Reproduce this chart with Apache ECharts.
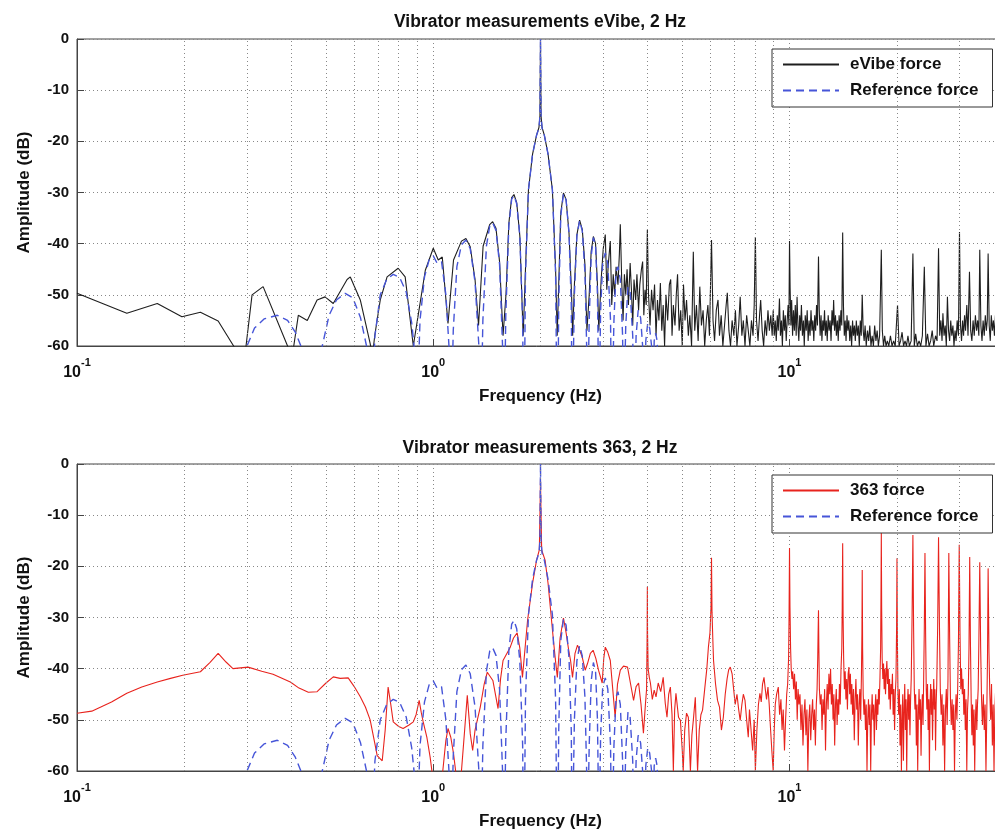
<!DOCTYPE html>
<html>
<head>
<meta charset="utf-8">
<title>Vibrator measurements</title>
<script src="https://cdn.jsdelivr.net/npm/echarts@6/dist/echarts.min.js"></script>
<style>
html, body { margin: 0; padding: 0; background: #fff; }
#chartBox { width: 995px; height: 832px; }
</style>
</head>
<body>
<div id="chartBox"></div>
<script>
// 频率 (Hz) / 幅值 (dB) 数据，读图所得
const minorGridFreqs = [0.2, 0.3, 0.4, 0.5, 0.6, 0.7, 0.8, 0.9, 2, 3, 4, 5, 6, 7, 8, 9, 20, 30]

// 参考力 (蓝色虚线)，两张图共用
const referenceForce = [
  [0.285, -75], [0.300, -60], [0.315, -56.5], [0.335, -54.7], [0.365, -54], [0.39, -55], [0.41, -57.3], [0.428, -60.5], [0.44, -67], [0.45, -80],
  [0.47, -72], [0.488, -60], [0.51, -54], [0.535, -51], [0.566, -49.7], [0.595, -50.6], [0.625, -54.5], [0.652, -60.5], [0.664, -75],
  [0.672, -72], [0.686, -58], [0.71, -50], [0.74, -47], [0.772, -46], [0.805, -46.6], [0.84, -49.5], [0.87, -55.5], [0.889, -62], [0.896, -76],
  [0.903, -70], [0.918, -55], [0.945, -46.5], [0.975, -43], [1.0, -42.4], [1.025, -43.8], [1.055, -43.5], [1.085, -50], [1.108, -60.5], [1.117, -76],
  [1.124, -74], [1.138, -57], [1.165, -44.5], [1.2, -40.2], [1.235, -39.3], [1.27, -41], [1.31, -47.5], [1.343, -60], [1.354, -76],
  [1.362, -74], [1.378, -55], [1.41, -40.5], [1.44, -36.6], [1.468, -35.9], [1.5, -37.4], [1.535, -44], [1.565, -60], [1.575, -76],
  [1.583, -74], [1.598, -54], [1.63, -36.5], [1.66, -31.3], [1.685, -30.6], [1.715, -32.2], [1.75, -38.5], [1.782, -55], [1.793, -76],
  [1.80, -74], [1.815, -46], [1.85, -29.5], [1.9, -22.5], [1.95, -18.8], [1.98, -17.4], [1.993, -15], [2.0, 0], [2.007, -15], [2.02, -17.4],
  [2.05, -18.8], [2.1, -22.5], [2.16, -29.5], [2.205, -46], [2.225, -74],
  [2.235, -76], [2.25, -52], [2.28, -34.5], [2.32, -30.3], [2.36, -31.5], [2.405, -38], [2.44, -52], [2.455, -76],
  [2.47, -76], [2.49, -50], [2.53, -38.5], [2.575, -35.5], [2.62, -37.5], [2.665, -45.5], [2.695, -60], [2.705, -76],
  [2.72, -76], [2.74, -55], [2.775, -42.5], [2.815, -38.8], [2.855, -40.5], [2.89, -50], [2.905, -62], [2.915, -76],
  [2.93, -76], [2.95, -53], [2.99, -43.5], [3.04, -41.8], [3.09, -44], [3.145, -55], [3.17, -76],
  [3.19, -76], [3.215, -55], [3.26, -45.5], [3.3, -44.5], [3.35, -47], [3.4, -58], [3.42, -76],
  [3.44, -76], [3.47, -56], [3.52, -48.5], [3.57, -49.5], [3.63, -58], [3.66, -76],
  [3.68, -76], [3.71, -58], [3.76, -53], [3.82, -54.5], [3.87, -60], [3.9, -76],
  [3.92, -76], [3.95, -59], [4.0, -55.5], [4.05, -56.5], [4.1, -60], [4.12, -76],
  [4.14, -74], [4.17, -59], [4.21, -57.5], [4.25, -59], [4.28, -70]
]

// eVibe 力 (黑色实线)
const evibeLow = [
  [0.1, -49.7], [0.138, -53.6], [0.168, -51.7], [0.197, -54.3], [0.222, -53.4], [0.249, -55.1], [0.278, -60.5], [0.287, -64], [0.297, -61],
  [0.31, -50], [0.333, -48.4], [0.39, -60], [0.4, -63], [0.418, -54], [0.443, -55], [0.472, -51], [0.497, -50.4], [0.524, -51.7],
  [0.573, -47], [0.585, -46.5], [0.624, -51], [0.665, -59.5], [0.675, -62], [0.685, -58], [0.71, -51], [0.742, -46.5], [0.797, -44.8],
  [0.834, -46.5], [0.879, -60], [0.907, -54], [0.95, -45.2], [1.0, -40.9], [1.033, -43.2], [1.06, -42.6], [1.1, -55.6], [1.14, -43.2],
  [1.2, -39.5], [1.235, -39], [1.27, -40.6], [1.31, -47], [1.34, -56], [1.38, -40.5], [1.44, -36.3], [1.468, -35.7], [1.5, -37],
  [1.535, -43.5], [1.57, -58], [1.6, -50], [1.63, -36], [1.66, -31], [1.685, -30.4], [1.715, -32], [1.75, -38.5], [1.788, -58],
  [1.815, -45], [1.85, -29.5], [1.9, -22.5], [1.95, -18.8], [1.98, -17.3], [1.993, -15], [2.0, -0.5], [2.007, -15], [2.02, -17.3],
  [2.05, -18.8], [2.1, -22.5], [2.16, -29.5], [2.205, -45], [2.228, -58], [2.25, -48], [2.28, -34], [2.32, -30.1], [2.36, -31.4],
  [2.405, -38], [2.445, -50], [2.462, -58], [2.49, -48], [2.53, -38.3], [2.575, -35.4], [2.62, -37.2], [2.665, -44], [2.7, -57],
  [2.74, -50], [2.775, -41.5], [2.815, -38.6], [2.855, -40], [2.89, -48], [2.915, -57]
]
const evibeMid = [
  [2.96, -47], [3.0, -41], [3.04, -38.2], [3.07, -49], [3.1, -44], [3.14, -39.5], [3.17, -52], [3.2, -46], [3.23, -50], [3.26, -44.5],
  [3.3, -48], [3.33, -42], [3.35, -36.2], [3.38, -47], [3.41, -55], [3.44, -46], [3.47, -50], [3.5, -45], [3.53, -52], [3.57, -43.8],
  [3.6, -49], [3.63, -56], [3.66, -47], [3.7, -51], [3.73, -46], [3.77, -53], [3.8, -48], [3.84, -45], [3.87, -43.5], [3.9, -54],
  [3.93, -49], [3.96, -52], [3.99, -37.3], [4.02, -50], [4.06, -56], [4.1, -49], [4.14, -53], [4.18, -48], [4.22, -58], [4.26, -51],
  [4.3, -55], [4.34, -47.7], [4.38, -57], [4.42, -52], [4.46, -60], [4.5, -50], [4.55, -55], [4.6, -48], [4.64, -47], [4.68, -58],
  [4.72, -52], [4.77, -56], [4.81, -50], [4.85, -46], [4.9, -57], [4.95, -53], [5.0, -60], [5.04, -48], [5.09, -55], [5.14, -51],
  [5.2, -58], [5.25, -54], [5.31, -60], [5.37, -41.6], [5.42, -57], [5.48, -52], [5.54, -59], [5.6, -48.4], [5.66, -56], [5.72, -53],
  [5.78, -60], [5.84, -55], [5.9, -52], [5.96, -58], [6.04, -39.3], [6.1, -55], [6.16, -59], [6.23, -53], [6.3, -51], [6.36, -58],
  [6.43, -54], [6.5, -60], [6.57, -56], [6.64, -52], [6.69, -49.6], [6.76, -57], [6.83, -60], [6.9, -55], [6.98, -58], [7.05, -53],
  [7.12, -60], [7.2, -56], [7.27, -50.4], [7.35, -58], [7.42, -55], [7.5, -60], [7.58, -54], [7.66, -57], [7.74, -60], [7.82, -55],
  [7.9, -58], [7.96, -52], [8.02, -38.7], [8.08, -55], [8.16, -59], [8.24, -54], [8.3, -51], [8.38, -57], [8.46, -60], [8.54, -55],
  [8.62, -58], [8.7, -53], [8.78, -57], [8.86, -54], [8.94, -58], [9.0, -53]
]
const evibeHigh = [
  [9.06, -58], [9.12, -55], [9.18, -59], [9.24, -54], [9.3, -57], [9.37, -50.7], [9.43, -58], [9.49, -55], [9.55, -60], [9.61, -53],
  [9.67, -57], [9.73, -54], [9.79, -59], [9.85, -55], [9.91, -52], [9.96, -56], [10.0, -39.5], [10.04, -48.7], [10.09, -56], [10.14, -51],
  [10.2, -58], [10.26, -53], [10.32, -57], [10.38, -52], [10.44, -58], [10.5, -50.4], [10.56, -56], [10.62, -59], [10.68, -54], [10.74, -57],
  [10.8, -52], [10.87, -58], [10.94, -55], [11.0, -60], [11.07, -54], [11.14, -57], [11.21, -53], [11.28, -59], [11.35, -55], [11.42, -58],
  [11.49, -53], [11.56, -57], [11.63, -55], [11.7, -59], [11.77, -54], [11.84, -57], [11.91, -52], [11.98, -56], [12.06, -42.5], [12.12, -53],
  [12.19, -58], [12.26, -54], [12.33, -59], [12.4, -55], [12.47, -57], [12.54, -53], [12.61, -58], [12.68, -55], [12.76, -59], [12.84, -54],
  [12.92, -57], [13.0, -55], [13.08, -59], [13.16, -53], [13.24, -56], [13.3, -51], [13.38, -57], [13.46, -54], [13.54, -58], [13.62, -55],
  [13.7, -59], [13.78, -54], [13.86, -57], [13.94, -53], [14.02, -56], [14.1, -37.8], [14.17, -52], [14.25, -58], [14.33, -55], [14.41, -59],
  [14.5, -54], [14.58, -57], [14.67, -55], [14.76, -59], [14.85, -56], [14.94, -60], [15.03, -55], [15.12, -58], [15.21, -56], [15.3, -59],
  [15.4, -55], [15.5, -58], [15.6, -56], [15.7, -60], [15.8, -55], [15.9, -58], [16.0, -50], [16.1, -57], [16.2, -59], [16.3, -56],
  [16.42, -60], [16.55, -57], [16.68, -59], [16.8, -56], [16.93, -60], [17.06, -58], [17.2, -60], [17.34, -56], [17.48, -59], [17.62, -57],
  [17.76, -60], [17.9, -58], [18.1, -41.2], [18.22, -57], [18.36, -60], [18.5, -58], [18.66, -60], [18.82, -59], [19.0, -60], [19.2, -58],
  [19.4, -60], [19.6, -59], [19.8, -60], [20.1, -52], [20.3, -60], [20.5, -59], [20.7, -57.3], [20.9, -60], [21.1, -59], [21.3, -60],
  [21.5, -58], [21.7, -60], [21.95, -59], [22.2, -41.9], [22.4, -60], [22.6, -57.6], [22.85, -60], [23.1, -59], [23.35, -60], [23.6, -58],
  [23.9, -44.5], [24.15, -60], [24.4, -57.6], [24.65, -60], [24.9, -59], [25.15, -57], [25.4, -60], [25.7, -58], [25.95, -59], [26.2, -40.9],
  [26.4, -58], [26.6, -55], [26.8, -59], [26.95, -53.6], [27.15, -58], [27.35, -56], [27.55, -60], [27.75, -50.4], [27.95, -57], [28.15, -59],
  [28.35, -55], [28.55, -58], [28.75, -56], [28.95, -60], [29.15, -57], [29.35, -59], [29.55, -55], [29.8, -58], [30.0, -37.7], [30.2, -56],
  [30.4, -59], [30.6, -55], [30.8, -58], [31.0, -54], [31.2, -57], [31.45, -52], [31.7, -58], [32.0, -45.5], [32.25, -57], [32.5, -59],
  [32.75, -55], [33.0, -58], [33.25, -54], [33.5, -57], [33.75, -55], [34.0, -58], [34.2, -41.2], [34.45, -56], [34.7, -59], [34.95, -55],
  [35.2, -58], [35.45, -54], [35.7, -57], [35.9, -55], [36.1, -41.9], [36.35, -56], [36.6, -59], [36.85, -54], [37.1, -57], [37.35, -55],
  [37.6, -58], [37.85, -54], [38.1, -57], [38.35, -55], [38.6, -58], [38.85, -56], [39.1, -59], [39.4, -55], [39.7, -57], [40.0, -56]
]

// 363 力 (红色实线)
const force363Low = [
  [0.1, -48.7], [0.11, -48.3], [0.125, -46.5], [0.138, -44.8], [0.152, -43.6], [0.168, -42.6], [0.183, -41.9], [0.198, -41.3], [0.222, -40.6],
  [0.236, -38.8], [0.249, -37], [0.262, -38.7], [0.274, -40], [0.302, -39.7], [0.33, -40.5], [0.355, -41.1], [0.397, -42.6], [0.42, -43.8],
  [0.446, -44.6], [0.472, -44.5], [0.5, -42.8], [0.524, -41.6], [0.548, -41.9], [0.577, -41.8], [0.6, -43.5], [0.624, -45.5], [0.645, -47.5],
  [0.665, -50], [0.685, -54.5], [0.696, -57], [0.719, -58], [0.733, -52], [0.747, -43.6], [0.76, -47], [0.772, -50.4], [0.8, -51.3],
  [0.823, -51.7], [0.855, -51], [0.879, -50.4], [0.895, -49], [0.913, -46.2], [0.925, -48.5], [0.937, -50.4], [0.96, -53.5], [0.98, -57.3],
  [1.0, -62], [1.03, -64], [1.06, -61], [1.085, -54], [1.1, -51.7], [1.12, -53.4], [1.14, -56.6], [1.165, -62], [1.2, -60], [1.225, -52],
  [1.246, -45.2], [1.27, -52.7], [1.29, -56], [1.31, -52], [1.355, -47.5], [1.39, -43], [1.418, -40.7], [1.47, -42.3], [1.52, -47.8],
  [1.545, -42], [1.57, -38.4], [1.645, -35.8], [1.68, -34], [1.72, -33], [1.75, -36], [1.78, -41.7], [1.81, -36], [1.84, -30.5],
  [1.9, -23.3], [1.95, -18.8], [1.985, -16.8], [1.995, -8], [2.0, -3], [2.005, -8], [2.015, -16.8], [2.06, -18.8], [2.1, -23.3], [2.17, -33.8]
]
const force363Mid = [
  [2.2, -38], [2.23, -41.7], [2.27, -34], [2.32, -30.1], [2.36, -33], [2.4, -36.4], [2.43, -38.5], [2.46, -41.7], [2.5, -37], [2.54, -35.4],
  [2.58, -36.5], [2.62, -37.8], [2.67, -40.3], [2.71, -39], [2.76, -37], [2.81, -36.4], [2.86, -38], [2.91, -40.3], [2.98, -42.8], [3.01, -38],
  [3.04, -35.8], [3.09, -36.8], [3.14, -38.4], [3.19, -44], [3.24, -49.5], [3.29, -43], [3.35, -40.3], [3.42, -39.5], [3.51, -39.7], [3.58, -43],
  [3.65, -46.2], [3.71, -43.5], [3.77, -42.8], [3.83, -47], [3.89, -52.6], [3.94, -47], [3.97, -44], [3.985, -33], [3.99, -24], [3.995, -33],
  [4.01, -40], [4.04, -41.7], [4.07, -42.8], [4.12, -46], [4.17, -44.2], [4.22, -45.5], [4.28, -42.8], [4.35, -44.5], [4.42, -41.7], [4.48, -46.8],
  [4.53, -49.5], [4.58, -45], [4.63, -43.6], [4.68, -49], [4.72, -60], [4.76, -48], [4.8, -44.8], [4.88, -49.5], [4.94, -50.1], [5.0, -56],
  [5.03, -60], [5.08, -52], [5.14, -48.7], [5.2, -49.5], [5.27, -60], [5.32, -53], [5.37, -50.1], [5.44, -45.6], [5.52, -60], [5.58, -52],
  [5.64, -49], [5.7, -48.1], [5.78, -44], [5.86, -40], [5.92, -35.8], [5.98, -33], [6.02, -28], [6.04, -18.3], [6.06, -29], [6.09, -34],
  [6.12, -38.4], [6.2, -43], [6.28, -46.2], [6.36, -47.5], [6.44, -52], [6.52, -49.5], [6.6, -45], [6.68, -42], [6.75, -40.2], [6.82, -39.7],
  [6.9, -41], [6.96, -43.6], [7.04, -47], [7.12, -45], [7.2, -48], [7.27, -50.1], [7.35, -47], [7.42, -45], [7.5, -46.2], [7.58, -50],
  [7.66, -53.4], [7.72, -48], [7.8, -52], [7.88, -56], [7.96, -50], [8.02, -60], [8.1, -52], [8.18, -47], [8.26, -44.8], [8.33, -46.5],
  [8.4, -43], [8.48, -41.7], [8.55, -44], [8.62, -46], [8.7, -43.6], [8.77, -47], [8.85, -52], [8.92, -56], [9.0, -60], [9.06, -52],
  [9.12, -47], [9.2, -45], [9.3, -43.6], [9.38, -49], [9.46, -46], [9.53, -52], [9.6, -48], [9.68, -56], [9.75, -50], [9.82, -45],
  [9.88, -43], [9.94, -38], [9.97, -30], [10.0, -16.4], [10.03, -28], [10.07, -36]
]
const force363High = [
  [10.11, -40], [10.16, -42], [10.21, -40.5], [10.27, -44], [10.33, -41], [10.39, -46], [10.45, -42.5], [10.51, -50], [10.57, -44], [10.63, -47],
  [10.7, -45], [10.77, -52], [10.84, -47], [10.91, -55], [10.98, -49], [11.05, -46], [11.12, -53], [11.19, -48], [11.26, -60], [11.33, -50],
  [11.4, -47], [11.47, -54], [11.54, -49], [11.61, -46], [11.68, -52], [11.75, -48], [11.82, -55], [11.89, -47], [11.95, -44], [12.0, -38],
  [12.03, -33], [12.06, -28.6], [12.09, -36], [12.13, -44], [12.2, -47], [12.27, -45], [12.34, -52], [12.41, -46], [12.48, -49], [12.55, -44],
  [12.62, -56], [12.69, -47], [12.76, -43], [12.83, -48], [12.9, -41], [12.97, -45], [13.04, -40], [13.11, -47], [13.18, -43], [13.25, -50],
  [13.32, -45], [13.39, -55], [13.46, -47], [13.53, -44], [13.6, -51], [13.67, -46], [13.74, -49], [13.81, -43], [13.88, -47], [13.95, -40],
  [14.02, -36], [14.06, -28], [14.1, -15.5], [14.14, -30], [14.19, -38], [14.26, -44], [14.33, -40.5], [14.4, -46], [14.47, -42], [14.54, -48],
  [14.61, -41], [14.68, -39.7], [14.75, -45], [14.82, -41], [14.89, -47], [14.96, -43], [15.04, -49], [15.12, -44], [15.2, -54], [15.28, -46],
  [15.36, -42], [15.44, -48], [15.52, -45], [15.6, -55], [15.68, -47], [15.76, -44], [15.84, -50], [15.92, -41], [15.97, -33], [16.0, -20.7],
  [16.04, -36], [16.1, -45], [16.18, -49], [16.26, -46], [16.34, -52], [16.42, -47], [16.5, -60], [16.58, -50], [16.66, -46], [16.74, -51],
  [16.82, -47], [16.9, -60], [16.98, -49], [17.06, -45], [17.14, -50], [17.22, -47], [17.3, -55], [17.38, -48], [17.46, -45], [17.54, -52],
  [17.62, -46], [17.7, -49], [17.78, -44], [17.86, -47], [17.94, -42], [18.02, -36], [18.06, -26], [18.1, -13.5], [18.14, -28], [18.2, -38],
  [18.28, -42], [18.36, -39], [18.44, -44], [18.52, -40], [18.6, -45], [18.68, -41], [18.76, -38.5], [18.84, -43], [18.92, -40], [19.0, -46],
  [19.09, -42], [19.18, -48], [19.27, -43], [19.36, -45], [19.45, -41], [19.54, -49], [19.63, -44], [19.72, -52], [19.81, -45], [19.9, -42],
  [19.98, -32], [20.03, -18.4], [20.08, -34], [20.16, -45], [20.25, -49], [20.34, -44], [20.43, -55], [20.52, -47], [20.61, -60], [20.7, -50],
  [20.79, -45], [20.88, -58], [20.97, -48], [21.06, -43], [21.15, -52], [21.24, -46], [21.33, -60], [21.42, -48], [21.51, -44], [21.6, -50],
  [21.69, -45], [21.78, -53], [21.87, -46], [21.96, -42], [22.08, -30], [22.2, -13.9], [22.3, -32], [22.4, -44], [22.5, -48], [22.6, -45],
  [22.7, -55], [22.8, -47], [22.9, -60], [23.0, -49], [23.1, -44], [23.2, -50], [23.3, -46], [23.4, -57], [23.5, -48], [23.6, -45],
  [23.7, -51], [23.8, -42], [23.9, -32], [24.0, -17.4], [24.1, -33], [24.2, -44], [24.3, -48], [24.4, -43], [24.5, -52], [24.6, -46],
  [24.7, -60], [24.8, -47], [24.9, -43], [25.0, -49], [25.1, -44], [25.2, -54], [25.3, -47], [25.4, -42], [25.5, -48], [25.6, -44],
  [25.7, -56], [25.8, -47], [25.9, -43], [26.05, -32], [26.2, -14.3], [26.35, -31], [26.5, -44], [26.65, -49], [26.8, -45], [26.95, -55],
  [27.1, -47], [27.25, -60], [27.4, -48], [27.55, -44], [27.7, -51], [27.85, -42], [28.0, -17.4], [28.15, -34], [28.3, -46], [28.45, -51],
  [28.6, -46], [28.75, -52], [28.9, -47], [29.05, -60], [29.2, -49], [29.35, -45], [29.5, -50], [29.65, -44], [29.8, -35], [29.95, -15.8],
  [30.1, -33], [30.25, -44], [30.4, -40], [30.55, -45], [30.7, -42], [30.85, -49], [31.0, -44], [31.15, -52], [31.3, -46], [31.45, -60],
  [31.6, -48], [31.75, -45], [31.9, -36], [32.05, -18.2], [32.2, -35], [32.35, -46], [32.5, -53], [32.65, -47], [32.8, -55], [32.95, -48],
  [33.1, -60], [33.25, -50], [33.4, -46], [33.55, -52], [33.7, -47], [33.85, -44], [34.0, -35], [34.2, -19.2], [34.4, -36], [34.6, -46],
  [34.8, -51], [35.0, -45], [35.2, -52], [35.4, -47], [35.6, -60], [35.8, -48], [35.95, -38], [36.1, -20.4], [36.3, -37], [36.5, -45],
  [36.7, -50], [36.9, -43], [37.1, -55], [37.3, -47], [37.5, -60], [37.7, -48], [37.9, -44], [38.1, -51], [38.3, -46], [38.5, -42],
  [38.7, -50], [38.9, -45], [39.1, -56], [39.3, -47], [39.5, -44], [39.7, -50], [39.9, -46]
]

const evibeForce = evibeLow.concat(evibeMid, evibeHigh)
const force363 = force363Low.concat(force363Mid, force363High)

const FONT = '"Liberation Sans", Arial, Helvetica, sans-serif'
const TEXT_COLOR = '#111'

// 对数轴标签 10^n
function logLabel (value) {
  const e = Math.round(Math.log10(value))
  if (Math.abs(value - Math.pow(10, e)) > value * 1e-6) return ''
  return '{b|10}{s|' + e + '}'
}

function makeXAxis (gridIndex) {
  return {
    type: 'log',
    logBase: 10,
    gridIndex: gridIndex,
    min: 0.1,
    max: 40,
    name: 'Frequency (Hz)',
    nameLocation: 'middle',
    nameGap: 42,
    nameTextStyle: { fontFamily: FONT, fontSize: 17, fontWeight: 'bold', color: TEXT_COLOR, verticalAlign: 'top' },
    axisLine: { show: true, onZero: false, lineStyle: { color: '#444', width: 1 } },
    axisTick: { show: true, inside: true, length: 7, lineStyle: { color: '#444' } },
    axisLabel: {
      formatter: logLabel,
      margin: 11,
      rich: {
        b: { fontFamily: FONT, fontSize: 16, fontWeight: 'bold', color: TEXT_COLOR, padding: [8, 0, 0, 0], verticalAlign: 'bottom' },
        s: { fontFamily: FONT, fontSize: 11, fontWeight: 'bold', color: TEXT_COLOR, verticalAlign: 'top' }
      }
    },
    splitLine: { show: true, lineStyle: { type: [1, 3], color: '#888', width: 1 } }
  }
}

function makeYAxis (gridIndex) {
  return {
    type: 'value',
    gridIndex: gridIndex,
    min: -60,
    max: 0,
    interval: 10,
    name: 'Amplitude (dB)',
    nameLocation: 'middle',
    nameGap: 44,
    nameTextStyle: { fontFamily: FONT, fontSize: 17, fontWeight: 'bold', color: TEXT_COLOR },
    axisLine: { show: true, lineStyle: { color: '#444', width: 1 } },
    axisTick: { show: true, inside: true, length: 7, lineStyle: { color: '#444' } },
    axisLabel: { fontFamily: FONT, fontSize: 15, fontWeight: 'bold', color: TEXT_COLOR, margin: 8 },
    splitLine: { show: true, lineStyle: { type: [1, 3], color: '#888', width: 1 } }
  }
}

// 次网格线 (2..9 每个十倍频)
function minorGridSeries (gridIndex) {
  return {
    type: 'line',
    xAxisIndex: gridIndex,
    yAxisIndex: gridIndex,
    data: [],
    silent: true,
    z: 1,
    markLine: {
      silent: true,
      symbol: ['none', 'none'],
      label: { show: false },
      animation: false,
      lineStyle: { type: [1, 3], color: '#888', width: 1 },
      data: minorGridFreqs.map(f => ({ xAxis: f }))
    }
  }
}

function forceSeries (name, data, gridIndex, color, dashed) {
  return {
    name: name,
    type: 'line',
    xAxisIndex: gridIndex,
    yAxisIndex: gridIndex,
    data: data,
    showSymbol: false,
    symbol: 'none',
    sampling: null,
    clip: true,
    z: dashed ? 4 : 3,
    lineStyle: { color: color, width: dashed ? 1.4 : 1.1, type: dashed ? [8, 5] : 'solid' },
    itemStyle: { color: color }
  }
}

const legendBase = {
  orient: 'vertical',
  left: 772,
  selectedMode: false,
  itemWidth: 56,
  itemHeight: 14,
  itemGap: 9,
  padding: [7, 14, 8, 10],
  backgroundColor: '#fff',
  borderColor: '#333',
  borderWidth: 1,
  itemStyle: { opacity: 0 },
  textStyle: { fontFamily: FONT, fontSize: 17, fontWeight: 'bold', color: TEXT_COLOR, padding: [0, 0, 0, 6] }
}

const titleStyle = { fontFamily: FONT, fontSize: 17.5, fontWeight: 'bold', color: TEXT_COLOR }

const option = {
  animation: false,
  backgroundColor: '#fff',
  title: [
    { text: 'Vibrator measurements eVibe, 2 Hz', left: 535, top: 8, textAlign: 'center', textStyle: titleStyle },
    { text: 'Vibrator measurements 363, 2 Hz', left: 535, top: 434, textAlign: 'center', textStyle: titleStyle }
  ],
  legend: [
    Object.assign({}, legendBase, { top: 49, data: ['eVibe force', 'Reference force'] }),
    Object.assign({}, legendBase, { top: 475, data: ['363 force', 'Reference force'] })
  ],
  grid: [
    { left: 77, top: 39, width: 927, height: 307, outerBoundsMode: 'none', containLabel: false,
      show: true, borderColor: '#444', borderWidth: 1, backgroundColor: 'transparent' },
    { left: 77, top: 464, width: 927, height: 307, outerBoundsMode: 'none', containLabel: false,
      show: true, borderColor: '#444', borderWidth: 1, backgroundColor: 'transparent' }
  ],
  xAxis: [makeXAxis(0), makeXAxis(1)],
  yAxis: [makeYAxis(0), makeYAxis(1)],
  series: [
    minorGridSeries(0),
    minorGridSeries(1),
    forceSeries('eVibe force', evibeForce, 0, '#1e1e1e', false),
    forceSeries('Reference force', referenceForce, 0, '#4655d8', true),
    forceSeries('363 force', force363, 1, '#e8231d', false),
    forceSeries('Reference force', referenceForce, 1, '#4655d8', true)
  ]
}

const myChart = echarts.init(document.getElementById('chartBox'))
myChart.setOption(option)
</script>
</body>
</html>
